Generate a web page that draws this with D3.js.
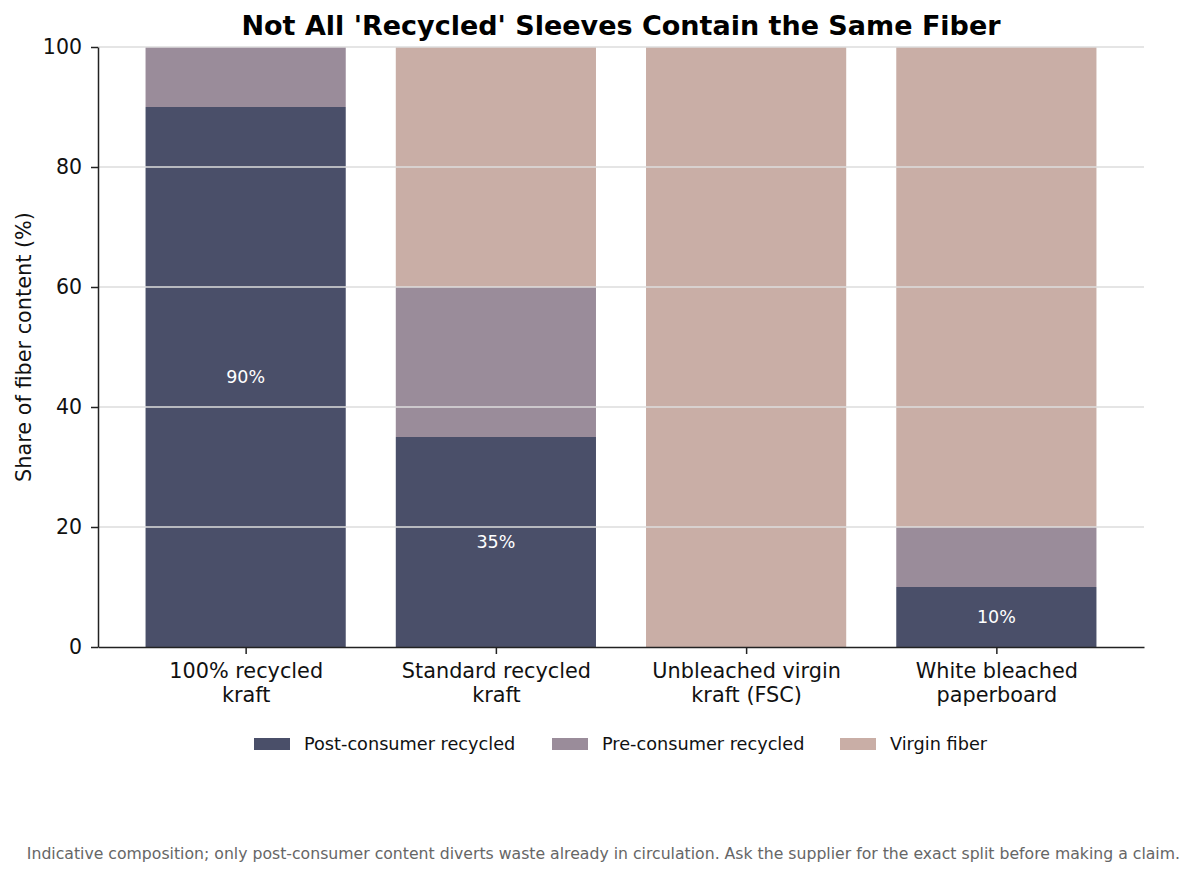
<!DOCTYPE html>
<html>
<head>
<meta charset="utf-8">
<script src="https://cdn.jsdelivr.net/npm/d3@7"></script>
<style>
  body { margin: 0; background: #fff; font-family: "DejaVu Sans", sans-serif; }
  svg text { font-family: "DejaVu Sans", sans-serif; }
</style>
</head>
<body>
<svg id="chart" width="1195" height="876"></svg>
<script>
// chart data
const categories = ['100% recycled\nkraft', 'Standard recycled\nkraft', 'Unbleached virgin\nkraft (FSC)', 'White bleached\npaperboard']
const seriesNames = ['Post-consumer recycled', 'Pre-consumer recycled', 'Virgin fiber']
const postConsumer = [90, 35, 0, 10]
const preConsumer = [10, 25, 0, 10]
const virginFiber = [0, 40, 100, 80]
const yTicks = [0, 20, 40, 60, 80, 100]

const colors = ['#4a4f69', '#9a8c9a', '#c9aea6']

const svg = d3.select('#chart')
const plot = { left: 98, right: 1144, top: 47, bottom: 647 }

const rows = categories.map((c, i) => ({
  idx: i,
  'Post-consumer recycled': postConsumer[i],
  'Pre-consumer recycled': preConsumer[i],
  'Virgin fiber': virginFiber[i]
}))
const stacked = d3.stack().keys(seriesNames)(rows)

// matplotlib-like positions: bar width 0.8, small side margin
const x = d3.scaleLinear().domain([-0.59, categories.length - 1 + 0.59]).range([plot.left, plot.right])
const barW = x(0.8) - x(0)
const y = d3.scaleLinear().domain([0, 100]).range([plot.bottom, plot.top])

// bars
stacked.forEach((layer, li) => {
  svg.append('g').selectAll('rect')
    .data(layer.filter(d => d[1] - d[0] > 0))
    .join('rect')
    .attr('x', d => x(d.data.idx) - barW / 2)
    .attr('width', barW)
    .attr('y', d => y(d[1]))
    .attr('height', d => y(d[0]) - y(d[1]))
    .attr('fill', colors[li])
})

// grid sits above the bars in the original
svg.append('g').selectAll('line')
  .data(yTicks.filter(t => t > 0))
  .join('line')
  .attr('x1', plot.left).attr('x2', plot.right)
  .attr('y1', d => y(d)).attr('y2', d => y(d))
  .attr('stroke', '#dddddd')
  .attr('stroke-width', 1.3)

// value labels on post-consumer segment
svg.append('g').selectAll('text')
  .data(stacked[0].filter(d => d[1] - d[0] > 0))
  .join('text')
  .attr('x', d => x(d.data.idx))
  .attr('y', d => y((d[0] + d[1]) / 2))
  .attr('dy', '0.35em')
  .attr('text-anchor', 'middle')
  .attr('fill', '#fff')
  .style('font-size', '17.5px')
  .text(d => (d[1] - d[0]) + '%')

// y axis
const yAxis = svg.append('g')
  .attr('transform', `translate(${plot.left},0)`)
  .call(d3.axisLeft(y).tickValues(yTicks).tickSize(7).tickSizeOuter(0).tickPadding(9))
yAxis.select('.domain').attr('stroke', '#222').attr('stroke-width', 1.5)
yAxis.selectAll('.tick line').attr('stroke', '#222').attr('stroke-width', 1.5)
yAxis.selectAll('.tick text').style('font-size', '20.5px').attr('fill', '#111')

// x axis
const xAxis = svg.append('g')
  .attr('transform', `translate(0,${plot.bottom})`)
  .call(d3.axisBottom(x).tickValues(d3.range(categories.length)).tickFormat(i => categories[i])
    .tickSize(7).tickSizeOuter(0).tickPadding(9))
xAxis.select('.domain').attr('stroke', '#222').attr('stroke-width', 1.5)
xAxis.selectAll('.tick line').attr('stroke', '#222').attr('stroke-width', 1.5)
xAxis.selectAll('.tick text')
  .style('font-size', '20.8px').attr('fill', '#111')
  .each(function (i) {
    const t = d3.select(this)
    const lines = categories[i].split('\n')
    t.text(null)
    lines.forEach((ln, k) => {
      t.append('tspan').attr('x', 0).attr('dy', k === 0 ? '0.71em' : '1.16em').text(ln)
    })
  })

// y label
svg.append('text')
  .attr('transform', `translate(31,${(plot.top + plot.bottom) / 2}) rotate(-90)`)
  .attr('text-anchor', 'middle')
  .style('font-size', '20.8px')
  .attr('fill', '#111')
  .text('Share of fiber content (%)')

// title
svg.append('text')
  .attr('x', (plot.left + plot.right) / 2)
  .attr('y', 35)
  .attr('text-anchor', 'middle')
  .style('font-size', '27px')
  .style('font-weight', 'bold')
  .text("Not All 'Recycled' Sleeves Contain the Same Fiber")

// legend
const legendX = [254, 552, 840]
const legend = svg.append('g')
seriesNames.forEach((name, i) => {
  legend.append('rect')
    .attr('x', legendX[i]).attr('y', 738)
    .attr('width', 36).attr('height', 12)
    .attr('fill', colors[i])
  legend.append('text')
    .attr('x', legendX[i] + 50).attr('y', 744)
    .attr('dy', '0.35em')
    .style('font-size', '17.7px')
    .attr('fill', '#111')
    .text(name)
})

// footer note
svg.append('text')
  .attr('x', 1180).attr('y', 854)
  .attr('dy', '0.35em')
  .attr('text-anchor', 'end')
  .style('font-size', '15.7px')
  .attr('fill', '#666')
  .text('Indicative composition; only post-consumer content diverts waste already in circulation. Ask the supplier for the exact split before making a claim.')
</script>
</body>
</html>
